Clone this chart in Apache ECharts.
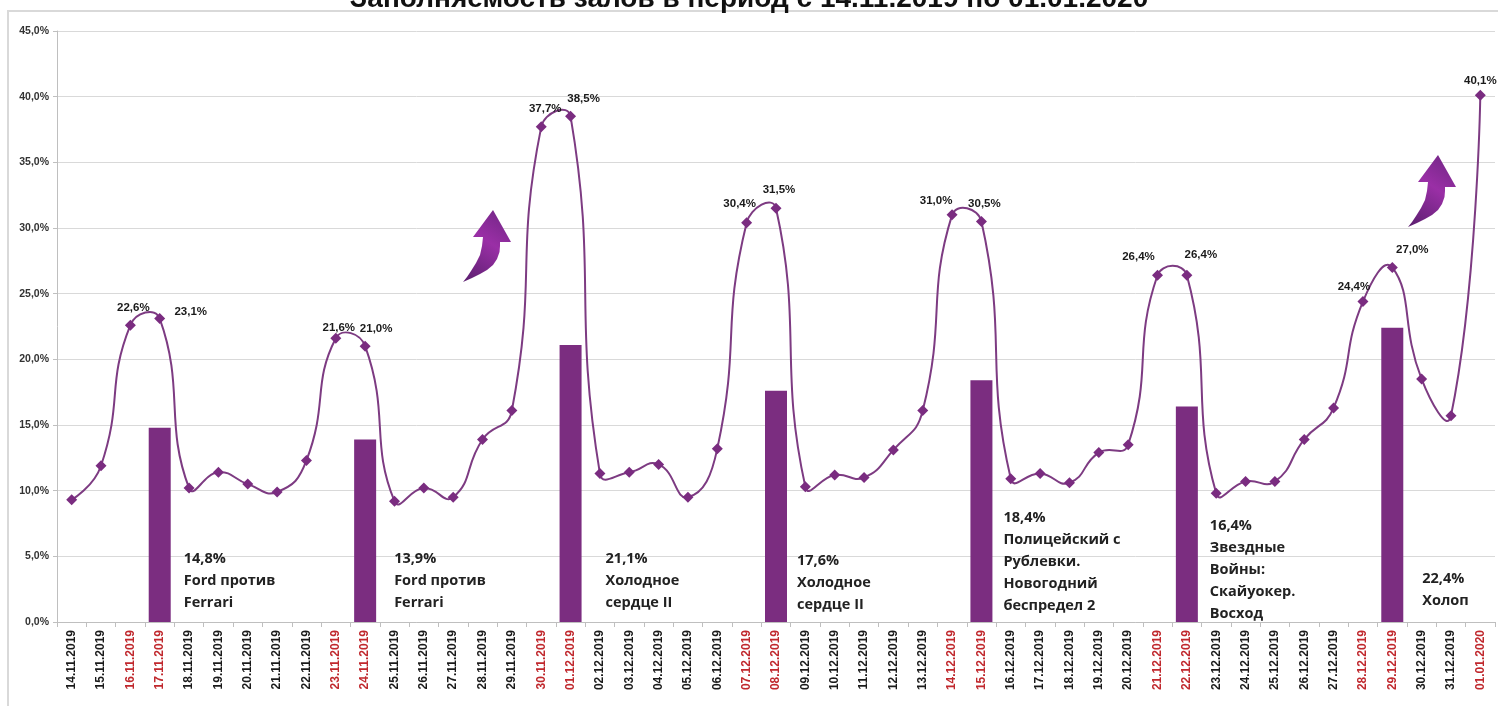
<!DOCTYPE html>
<html><head><meta charset="utf-8">
<script src="https://cdn.jsdelivr.net/npm/echarts@6/dist/echarts.min.js"></script>
<style>html,body{margin:0;padding:0;background:#fff;}#c{width:1498px;height:706px;}</style>
</head><body><div id="c"></div>
<script>
const titleText = 'Заполняемость залов в период с 14.11.2019 по 01.01.2020';
const dates = [
 '14.11.2019','15.11.2019','16.11.2019','17.11.2019','18.11.2019','19.11.2019','20.11.2019','21.11.2019','22.11.2019','23.11.2019','24.11.2019','25.11.2019','26.11.2019','27.11.2019','28.11.2019','29.11.2019','30.11.2019',
 '01.12.2019','02.12.2019','03.12.2019','04.12.2019','05.12.2019','06.12.2019','07.12.2019','08.12.2019','09.12.2019','10.12.2019','11.12.2019','12.12.2019','13.12.2019','14.12.2019','15.12.2019',
 '16.12.2019','17.12.2019','18.12.2019','19.12.2019','20.12.2019','21.12.2019','22.12.2019','23.12.2019','24.12.2019','25.12.2019','26.12.2019','27.12.2019','28.12.2019','29.12.2019','30.12.2019','31.12.2019',
 '01.01.2020'];
const occupancy = [
 9.3,11.9,22.6,23.1,10.2,11.4,10.5,9.9,12.3,21.6,21.0,9.2,10.2,9.5,13.9,16.1,37.7,
 38.5,11.3,11.4,12.0,9.5,13.2,30.4,31.5,10.3,11.2,11.0,13.1,16.1,31.0,30.5,
 10.9,11.3,10.6,12.9,13.5,26.4,26.4,9.8,10.7,10.7,13.9,16.3,24.4,27.0,18.5,15.7,
 40.1];
const redDates = ['16.11.2019','17.11.2019','23.11.2019','24.11.2019','30.11.2019','01.12.2019','07.12.2019','08.12.2019',
 '14.12.2019','15.12.2019','21.12.2019','22.12.2019','28.12.2019','29.12.2019','01.01.2020'];
const barDates = ['17.11.2019','24.11.2019','01.12.2019','08.12.2019','15.12.2019','22.12.2019','29.12.2019'];
const barValues = [14.8,13.9,21.1,17.6,18.4,16.4,22.4];
const barFilms = ['Ford против\nFerrari','Ford против\nFerrari','Холодное\nсердце II','Холодное\nсердце II',
 'Полицейский с\nРублевки.\nНовогодний\nбеспредел 2','Звездные\nВойны:\nСкайуокер.\nВосход','Холоп'];

// style: label offsets (pixels), not data
const pointLabelOffsets = {
 '16.11.2019':[3,-17],'17.11.2019':[31,-7],'23.11.2019':[3,-10],'24.11.2019':[11,-17],
 '30.11.2019':[4,-18],'01.12.2019':[13,-18],'07.12.2019':[-7,-19],'08.12.2019':[3,-18],
 '14.12.2019':[-16,-14],'15.12.2019':[3,-18],'21.12.2019':[-19,-18],'22.12.2019':[14,-20],
 '28.12.2019':[-9,-15],'29.12.2019':[20,-18],'01.01.2020':[0,-15]};
const barLabelOffsets = [[30,-3],[35,-3],[41,-3],[27,-1],[28,0],[29,8],[36,-5]];

const fmt = v => v.toFixed(1).replace('.', ',') + '%';
const PURPLE = '#7b2d80';
const LINE = '#7d3b82';
const SMOOTH = 0.5;

const lineData = occupancy.map((v, i) => {
  const d = dates[i];
  const item = { value: v };
  if (redDates.includes(d)) {
    item.label = { show: true, position: 'inside', offset: pointLabelOffsets[d] || [0,-16] };
  }
  return item;
});
const barData = dates.map(d => {
  const k = barDates.indexOf(d);
  if (k < 0) return null;
  return { value: barValues[k], film: barFilms[k], label: { offset: barLabelOffsets[k] } };
});

// smooth curve segment between point i and i+1 (spreadsheet-like smoothing, no clamping)
function renderCurve(params, api) {
  const n = params.dataInsideLength;
  const i = params.dataIndexInside;
  if (i >= n - 1) return null;
  const pt = k => api.coord([api.value(0, k), api.value(1, k)]);
  const p0 = i > 0 ? pt(i - 1) : null, p1 = pt(i), p2 = pt(i + 1), p3 = i + 2 < n ? pt(i + 2) : null;
  const handles = (P, p, N) => {
    const vx = N[0] - P[0], vy = N[1] - P[1];
    const lp = Math.hypot(p[0] - P[0], p[1] - P[1]), ln = Math.hypot(N[0] - p[0], N[1] - p[1]);
    const r = ln / (lp + ln);
    return { inCp: [p[0] - vx * SMOOTH * (1 - r), p[1] - vy * SMOOTH * (1 - r)],
             outCp: [p[0] + vx * SMOOTH * r, p[1] + vy * SMOOTH * r] };
  };
  const c1 = p0 ? handles(p0, p1, p2).outCp : p1;
  const c2 = p3 ? handles(p1, p2, p3).inCp : p2;
  return { type: 'bezierCurve',
    shape: { x1: p1[0], y1: p1[1], x2: p2[0], y2: p2[1], cpx1: c1[0], cpy1: c1[1], cpx2: c2[0], cpy2: c2[1] },
    style: { stroke: LINE, lineWidth: 2, fill: 'none' } };
}

// decorative arrow outline (local shape coordinates)
const arrowShape = [[0,72],[9,68],[17,64],[24,60],[30,55],[34,49],[36.5,42],[37,36],[37,32],[48,32],[30,0],
  [10,27],[20,27],[19,36],[17,45],[13,53],[8,61],[4,67]];
const arrowFill = { type: 'linear', x: 0, y: 1, x2: 1, y2: 0,
  colorStops: [{ offset: 0, color: '#5a1f6e' }, { offset: 0.55, color: '#9a2fa6' }, { offset: 1, color: '#6e2582' }] };

const chart = echarts.init(document.getElementById('c'));
chart.setOption({
  animation: false,
  backgroundColor: '#fff',
  title: { text: titleText, left: 'center', top: -20,
    textStyle: { fontSize: 28, fontWeight: 'bold', color: '#111', fontFamily: 'Liberation Sans' } },
  grid: { left: 57, right: 3, top: 31, bottom: 84, containLabel: false },
  xAxis: {
    type: 'category', data: dates, boundaryGap: true,
    axisLine: { lineStyle: { color: '#bfbfbf', width: 1 } },
    axisTick: { show: true, length: 5, lineStyle: { color: '#bfbfbf' } },
    axisLabel: { rotate: 90, interval: 0, margin: 8, fontSize: 12, fontWeight: 'bold',
      fontFamily: 'Liberation Sans',
      color: (val) => redDates.includes(val) ? '#c0282d' : '#1a1a1a' }
  },
  yAxis: {
    type: 'value', min: 0, max: 45, interval: 5,
    axisLine: { show: true, lineStyle: { color: '#bfbfbf' } },
    axisTick: { show: true, length: 4, lineStyle: { color: '#bfbfbf' } },
    splitLine: { lineStyle: { color: '#d9d9d9', width: 1 } },
    axisLabel: { formatter: fmt, fontSize: 10.5, fontWeight: 'bold', color: '#333', margin: 8,
      fontFamily: 'Liberation Sans' }
  },
  series: [
    {
      type: 'bar', data: barData, barWidth: 22, z: 2,
      itemStyle: { color: PURPLE },
      label: { show: true, position: 'insideBottomLeft', align: 'left', verticalAlign: 'bottom',
        formatter: p => fmt(p.value) + '\n' + p.data.film,
        fontFamily: 'Open Sans', fontSize: 14.5, fontWeight: 'bold', lineHeight: 22, color: '#222' }
    },
    {
      type: 'custom', data: occupancy.map((v, i) => [i, v]), z: 3, silent: true,
      encode: { x: 0, y: 1 }, renderItem: renderCurve
    },
    {
      type: 'line', data: lineData, z: 4,
      symbol: 'diamond', symbolSize: 11,
      itemStyle: { color: '#7a2c80' },
      lineStyle: { opacity: 0, width: 0 },
      label: { show: false, formatter: p => fmt(p.value), fontSize: 11.5, fontWeight: 'bold',
        fontFamily: 'Liberation Sans', color: '#1a1a1a', textBorderWidth: 0 }
    }
  ],
  graphic: [
    { type: 'rect', silent: true, z: -10, shape: { x: 8, y: 11, width: 1530, height: 730 },
      style: { fill: 'none', stroke: '#d9d9d9', lineWidth: 2 } },
    { type: 'polygon', x: 463, y: 210, z: 10, silent: true, shape: { points: arrowShape }, style: { fill: arrowFill } },
    { type: 'polygon', x: 1408, y: 155, z: 10, silent: true, shape: { points: arrowShape }, style: { fill: arrowFill } }
  ]
});
</script></body></html>
